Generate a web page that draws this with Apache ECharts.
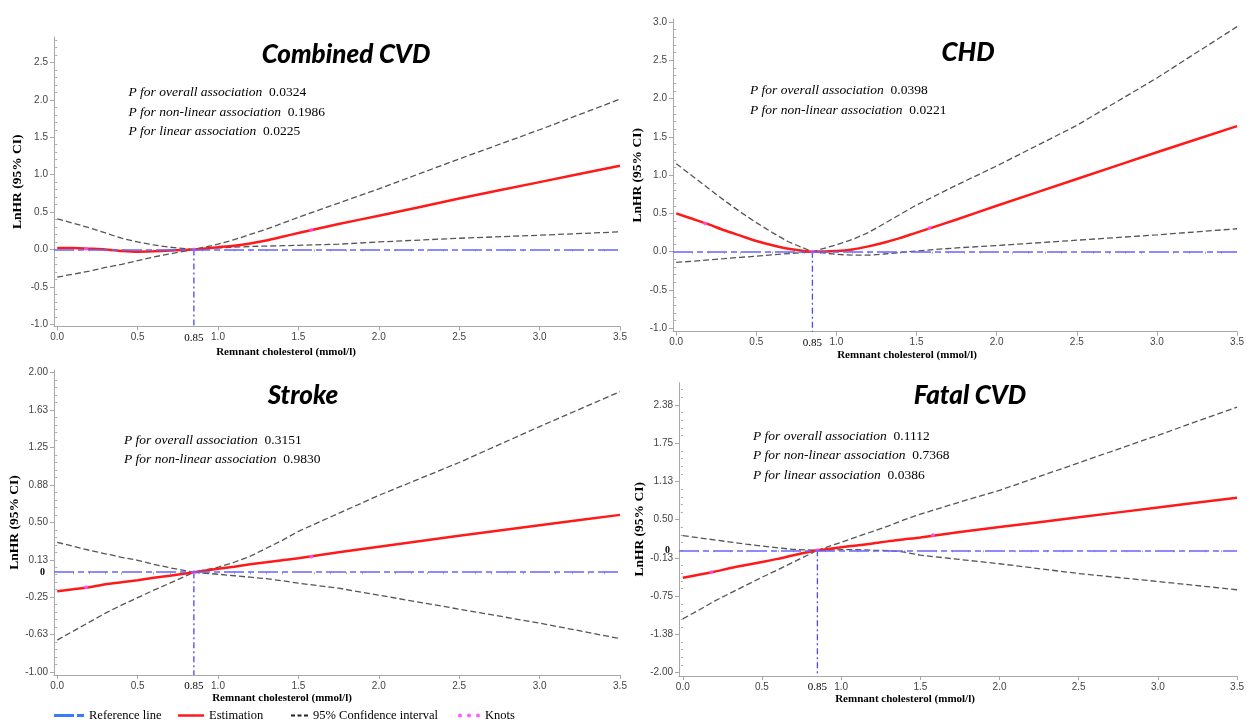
<!DOCTYPE html>
<html><head><meta charset="utf-8">
<script src="https://cdn.jsdelivr.net/npm/echarts@6/dist/echarts.min.js"></script>
<style>html,body{margin:0;padding:0;background:#fff}#c{width:1247px;height:721px}</style>
</head><body><div id="c"></div>
<script>
// ---------------- DATA ----------------
const xGrid = [0, 0.1, 0.2, 0.3, 0.4, 0.5, 0.6, 0.7, 0.85, 1.0, 1.1, 1.2, 1.3, 1.4, 1.5, 1.75, 2.0, 2.5, 3.0, 3.5];
const knotX = [0.18, 0.85, 1.58];
const refX = 0.85;
const refXLabel = '0.85';
const xTickValues = [0, 0.5, 1.0, 1.5, 2.0, 2.5, 3.0, 3.5];
const xTickLabels = ['0.0', '0.5', '1.0', '1.5', '2.0', '2.5', '3.0', '3.5'];

// Combined CVD
const cvdEst   = [0.02, 0.02, 0.01, 0.0, -0.02, -0.03, -0.025, -0.015, 0, 0.03, 0.05, 0.08, 0.12, 0.17, 0.22, 0.34, 0.45, 0.68, 0.90, 1.12];
const cvdUpper = [0.41, 0.35, 0.29, 0.22, 0.15, 0.10, 0.06, 0.03, 0, 0.07, 0.13, 0.20, 0.27, 0.35, 0.43, 0.62, 0.81, 1.21, 1.60, 2.01];
const cvdLower = [-0.37, -0.33, -0.29, -0.24, -0.20, -0.15, -0.10, -0.06, 0, 0.02, 0.03, 0.04, 0.045, 0.05, 0.055, 0.07, 0.10, 0.15, 0.19, 0.235];
const cvdKnotY = [0.01, 0, 0.26];
const cvdYTicks = [-1.0, -0.5, 0, 0.5, 1.0, 1.5, 2.0, 2.5];
const cvdYLabels = ['-1.0', '-0.5', '0.0', '0.5', '1.0', '1.5', '2.0', '2.5'];
const cvdPNames = ['P for overall association', 'P for non-linear association', 'P for linear association'];
const cvdPValues = ['0.0324', '0.1986', '0.0225'];

// CHD
const chdEst   = [0.50, 0.43, 0.36, 0.28, 0.21, 0.14, 0.085, 0.04, 0, 0.01, 0.03, 0.07, 0.12, 0.18, 0.25, 0.42, 0.60, 0.95, 1.30, 1.64];
const chdUpper = [1.15, 0.99, 0.83, 0.67, 0.52, 0.38, 0.25, 0.13, 0, 0.09, 0.16, 0.25, 0.37, 0.49, 0.61, 0.87, 1.12, 1.65, 2.27, 2.94];
const chdLower = [-0.14, -0.124, -0.107, -0.091, -0.074, -0.058, -0.041, -0.025, 0, -0.035, -0.045, -0.045, -0.03, -0.01, 0.01, 0.05, 0.08, 0.15, 0.22, 0.30];
const chdKnotY = [0.37, 0, 0.31];
const chdYTicks = [-1.0, -0.5, 0, 0.5, 1.0, 1.5, 2.0, 2.5, 3.0];
const chdYLabels = ['-1.0', '-0.5', '0.0', '0.5', '1.0', '1.5', '2.0', '2.5', '3.0'];
const chdPNames = ['P for overall association', 'P for non-linear association'];
const chdPValues = ['0.0398', '0.0221'];

// Stroke
const strokeEst   = [-0.19, -0.17, -0.15, -0.12, -0.10, -0.08, -0.055, -0.035, 0, 0.035, 0.055, 0.08, 0.10, 0.12, 0.14, 0.20, 0.255, 0.365, 0.47, 0.575];
const strokeUpper = [0.30, 0.26, 0.22, 0.185, 0.15, 0.12, 0.08, 0.045, 0, 0.05, 0.10, 0.16, 0.24, 0.32, 0.41, 0.59, 0.77, 1.10, 1.46, 1.81];
const strokeLower = [-0.68, -0.59, -0.50, -0.41, -0.33, -0.255, -0.18, -0.11, 0, -0.02, -0.035, -0.05, -0.065, -0.085, -0.11, -0.16, -0.23, -0.37, -0.51, -0.665];
const strokeKnotY = [-0.15, 0, 0.155];
const strokeYTicks = [-1.0, -0.625, -0.25, 0.125, 0.5, 0.875, 1.25, 1.625, 2.0];
const strokeYLabels = ['-1.00', '-0.63', '-0.25', '0.13', '0.50', '0.88', '1.25', '1.63', '2.00'];
const strokePNames = ['P for overall association', 'P for non-linear association'];
const strokePValues = ['0.3151', '0.9830'];

// Fatal CVD
const fatalEst   = [-0.45, -0.40, -0.35, -0.29, -0.24, -0.19, -0.14, -0.08, 0, 0.05, 0.08, 0.11, 0.15, 0.18, 0.21, 0.30, 0.38, 0.54, 0.70, 0.86];
const fatalUpper = [0.24, 0.205, 0.17, 0.135, 0.10, 0.07, 0.04, 0.015, 0, 0.13, 0.22, 0.31, 0.40, 0.50, 0.59, 0.79, 0.98, 1.43, 1.88, 2.34];
const fatalLower = [-1.12, -0.98, -0.83, -0.70, -0.57, -0.44, -0.32, -0.19, 0, 0.01, 0.01, 0.0, -0.005, -0.03, -0.08, -0.15, -0.22, -0.38, -0.51, -0.645];
const fatalKnotY = [-0.36, 0, 0.25];
const fatalYTicks = [-2.0, -1.375, -0.75, -0.125, 0.5, 1.125, 1.75, 2.375];
const fatalYLabels = ['-2.00', '-1.38', '-0.75', '-0.13', '0.50', '1.13', '1.75', '2.38'];
const fatalPNames = ['P for overall association', 'P for non-linear association', 'P for linear association'];
const fatalPValues = ['0.1112', '0.7368', '0.0386'];

const zeroExtraValue = [0];
const zeroExtraLabel = ['0'];

const panelTitles = ['Combined CVD', 'CHD', 'Stroke', 'Fatal CVD'];
const xName = 'Remnant cholesterol (mmol/l)';
const yName = 'LnHR (95% CI)';
const legendNames = ['Reference line', 'Estimation', '95% Confidence interval', 'Knots'];

// ---------------- LAYOUT (positions / styles only) ----------------
const panels = [
  {est: cvdEst, up: cvdUpper, lo: cvdLower, knot: cvdKnotY, yt: cvdYTicks, yl: cvdYLabels, zero: false, pn: cvdPNames, pv: cvdPValues,
   grid: {left: 54, top: 37, width: 566, height: 289.5}, xr: [-0.02, 3.5], yr: [-1.03, 2.84],
   title: [346, 55], p: [128.5, 92.7], xNameGap: 20, xShift: 102, yNameGap: 29.5},
  {est: chdEst, up: chdUpper, lo: chdLower, knot: chdKnotY, yt: chdYTicks, yl: chdYLabels, zero: false, pn: chdPNames, pv: chdPValues,
   grid: {left: 673, top: 19, width: 570, height: 312.7}, xr: [-0.02, 3.5], yr: [-1.045, 3.04],
   title: [968, 53], p: [750, 90.7], xNameGap: 16, xShift: 96, yNameGap: 28.5},
  {est: strokeEst, up: strokeUpper, lo: strokeLower, knot: strokeKnotY, yt: strokeYTicks, yl: strokeYLabels, zero: true, pn: strokePNames, pv: strokePValues,
   grid: {left: 54, top: 370, width: 566, height: 305}, xr: [-0.02, 3.5], yr: [-1.03, 2.027],
   title: [303, 396], p: [124, 440], xNameGap: 18, xShift: 110, yNameGap: 29.5},
  {est: fatalEst, up: fatalUpper, lo: fatalLower, knot: fatalKnotY, yt: fatalYTicks, yl: fatalYLabels, zero: true, pn: fatalPNames, pv: fatalPValues,
   grid: {left: 679, top: 382.7, width: 566, height: 293.3}, xr: [-0.024, 3.5], yr: [-2.055, 2.74],
   title: [970, 396], p: [753, 436], xNameGap: 17, xShift: 106, yNameGap: 30.5}
];

const AXIS_COLOR = '#a8a8a8';
const LABEL_COLOR = '#444';
const SERIF = 'Liberation Serif';

function minorValues(ticks, lo, hi) {
  const step = (ticks[1] - ticks[0]) / 5;
  const out = [];
  const i0 = Math.ceil((lo - ticks[0]) / step - 1e-9);
  const i1 = Math.floor((hi - ticks[0]) / step + 1e-9);
  for (let i = i0; i <= i1; i++) {
    if (((i % 5) + 5) % 5 === 0) continue;
    out.push(Math.round((ticks[0] + i * step) * 1e6) / 1e6);
  }
  return out;
}
function findIdx(arr, v) { return arr.findIndex(t => Math.abs(t - v) < 1e-9); }

const grids = [], xAxes = [], yAxes = [], series = [], graphics = [];

panels.forEach((P, k) => {
  grids.push(Object.assign({containLabel: false}, P.grid));
  const xLabelVals = xTickValues.concat([refX]);
  const xLabelTxt = xTickLabels.concat([refXLabel]);
  xAxes.push({
    type: 'value', gridIndex: k, min: P.xr[0], max: P.xr[1], position: 'bottom',
    axisLine: {show: true, onZero: false, lineStyle: {color: AXIS_COLOR, width: 1}},
    axisTick: {show: true, length: 4, customValues: xTickValues, lineStyle: {color: AXIS_COLOR}},
    splitLine: {show: false},
    axisLabel: {
      customValues: xLabelVals, margin: 6, color: LABEL_COLOR, fontSize: 10, fontFamily: 'Liberation Sans',
      formatter: v => { const i = findIdx(xLabelVals, v); const s = xLabelTxt[i]; return Math.abs(v - refX) < 1e-9 ? '{r|' + s + '}' : s; },
      rich: {r: {fontFamily: SERIF, fontSize: 11, color: '#000', padding: [0, 0, 3, 0]}}
    },
    name: xName, nameLocation: 'middle', nameGap: P.xNameGap,
    nameTextStyle: {fontFamily: SERIF, fontWeight: 'bold', fontSize: 11, color: '#000', padding: [0, P.xShift, 0, 0]}
  });
  xAxes.push({
    type: 'value', gridIndex: k, min: P.xr[0], max: P.xr[1], position: 'bottom',
    axisLine: {show: false}, axisLabel: {show: false}, splitLine: {show: false},
    axisTick: {show: true, length: 2, customValues: minorValues(xTickValues, 0, P.xr[1]), lineStyle: {color: AXIS_COLOR}}
  });
  const yLabelVals = P.zero ? P.yt.concat(zeroExtraValue) : P.yt.slice();
  const yLabelTxt = P.zero ? P.yl.concat(zeroExtraLabel) : P.yl.slice();
  yAxes.push({
    type: 'value', gridIndex: k, min: P.yr[0], max: P.yr[1], position: 'left',
    axisLine: {show: true, onZero: false, lineStyle: {color: AXIS_COLOR, width: 1}},
    axisTick: {show: true, length: 4, customValues: P.yt, lineStyle: {color: AXIS_COLOR}},
    splitLine: {show: false},
    axisLabel: {
      customValues: yLabelVals, margin: 6, color: LABEL_COLOR, fontSize: 10, fontFamily: 'Liberation Sans',
      formatter: v => { const i = findIdx(yLabelVals, v); const s = yLabelTxt[i]; return (P.zero && Math.abs(v) < 1e-9) ? '{z|' + s + '}' : s; },
      rich: {z: {fontFamily: SERIF, fontSize: 10, color: '#000', fontWeight: 'bold', padding: [0, 3, 0, 0]}}
    },
    name: yName, nameLocation: 'middle', nameGap: P.yNameGap, nameRotate: 90,
    nameTextStyle: {fontFamily: SERIF, fontWeight: 'bold', fontSize: 13.5, color: '#000'}
  });
  yAxes.push({
    type: 'value', gridIndex: k, min: P.yr[0], max: P.yr[1], position: 'left',
    axisLine: {show: false}, axisLabel: {show: false}, splitLine: {show: false},
    axisTick: {show: true, length: 2, customValues: minorValues(P.yt, P.yr[0], P.yr[1]), lineStyle: {color: AXIS_COLOR}}
  });
  const xi = 2 * k, yi = 2 * k;
  // reference lines
  series.push({
    type: 'line', name: legendNames[0], xAxisIndex: xi, yAxisIndex: yi, z: 1,
    color: '#5c5cff', symbol: 'none', silent: true,
    data: [[refX, 0], [refX, P.yr[0]]],
    lineStyle: {color: '#4848ff', width: 1.3, type: [6, 3, 2, 3]},
    markLine: {
      silent: true, symbol: ['none', 'none'], label: {show: false}, animation: false,
      data: [{yAxis: 0, lineStyle: {color: '#6666ff', width: 1.6, type: [20, 4, 6, 4]}}]
    }
  });
  [P.up, P.lo].forEach(arr => {
    series.push({
      type: 'line', name: legendNames[2], xAxisIndex: xi, yAxisIndex: yi, z: 2,
      color: '#222', symbol: 'none', silent: true,
      data: xGrid.map((x, i) => [x, arr[i]]),
      lineStyle: {color: '#555', width: 1.3, type: [6, 3]}
    });
  });
  series.push({
    type: 'line', name: legendNames[1], xAxisIndex: xi, yAxisIndex: yi, z: 3,
    color: '#ff1a1a', symbol: 'none', silent: true, smooth: 0.2,
    data: xGrid.map((x, i) => [x, P.est[i]]),
    lineStyle: {color: '#ff1a1a', width: 2.5}
  });
  series.push({
    type: 'scatter', name: legendNames[3], xAxisIndex: xi, yAxisIndex: yi, z: 4,
    color: '#ff55ff', symbolSize: 4, silent: true,
    data: knotX.map((x, i) => [x, P.knot[i]])
  });
  // title
  graphics.push({
    type: 'text', x: P.title[0], y: P.title[1], silent: true,
    style: {text: panelTitles[k], align: 'center', verticalAlign: 'middle',
            fontFamily: 'Lato', fontWeight: 900, fontStyle: 'italic', fontSize: 26, fill: '#000'}
  });
  P.pn.forEach((nm, j) => {
    graphics.push({
      type: 'text', x: P.p[0], y: P.p[1] + j * 19.6, silent: true,
      style: {
        text: '{i|' + nm + '}  {n|' + P.pv[j] + '}', align: 'left', verticalAlign: 'middle',
        fontFamily: SERIF, fontSize: 13.5, fill: '#000',
        rich: {i: {fontFamily: SERIF, fontStyle: 'italic', fontSize: 13.5, fill: '#000'},
               n: {fontFamily: SERIF, fontSize: 13.5, fill: '#000'}}
      }
    });
  });
});

const legendText = {fontFamily: SERIF, fontSize: 12.5, color: '#000'};
const legendDefs = [
  {left: 54, w: 30, h: 3, icon: 'path://M0,0H20V3H0Z M23,0H30V3H23Z', color: '#3a7cf5'},
  {left: 178, w: 26, h: 2.5, icon: 'path://M0,0H26V2.5H0Z', color: '#ff1a1a'},
  {left: 291, w: 17, h: 2, icon: 'path://M0,0H4V2H0Z M6.5,0H10.5V2H6.5Z M13,0H17V2H13Z', color: '#222'},
  {left: 458, w: 22, h: 4, icon: 'path://M0,2A2,2 0 1 1 4,2A2,2 0 1 1 0,2Z M9,2A2,2 0 1 1 13,2A2,2 0 1 1 9,2Z M18,2A2,2 0 1 1 22,2A2,2 0 1 1 18,2Z', color: '#ff33ff'}
];
const legends = legendDefs.map((d, i) => ({
  left: d.left, top: 709, padding: 0, itemWidth: d.w, itemHeight: d.h, symbolKeepAspect: false,
  selectedMode: false, textStyle: legendText, itemStyle: {borderWidth: 0},
  data: [{name: legendNames[i], icon: d.icon, itemStyle: {color: d.color, borderWidth: 0}}]
}));

const chart = echarts.init(document.getElementById('c'), null, {renderer: 'canvas'});
chart.setOption({
  backgroundColor: '#fff',
  animation: false,
  textStyle: {fontFamily: 'Liberation Sans'},
  grid: grids, xAxis: xAxes, yAxis: yAxes, series: series,
  legend: legends,
  graphic: graphics
});
</script></body></html>
